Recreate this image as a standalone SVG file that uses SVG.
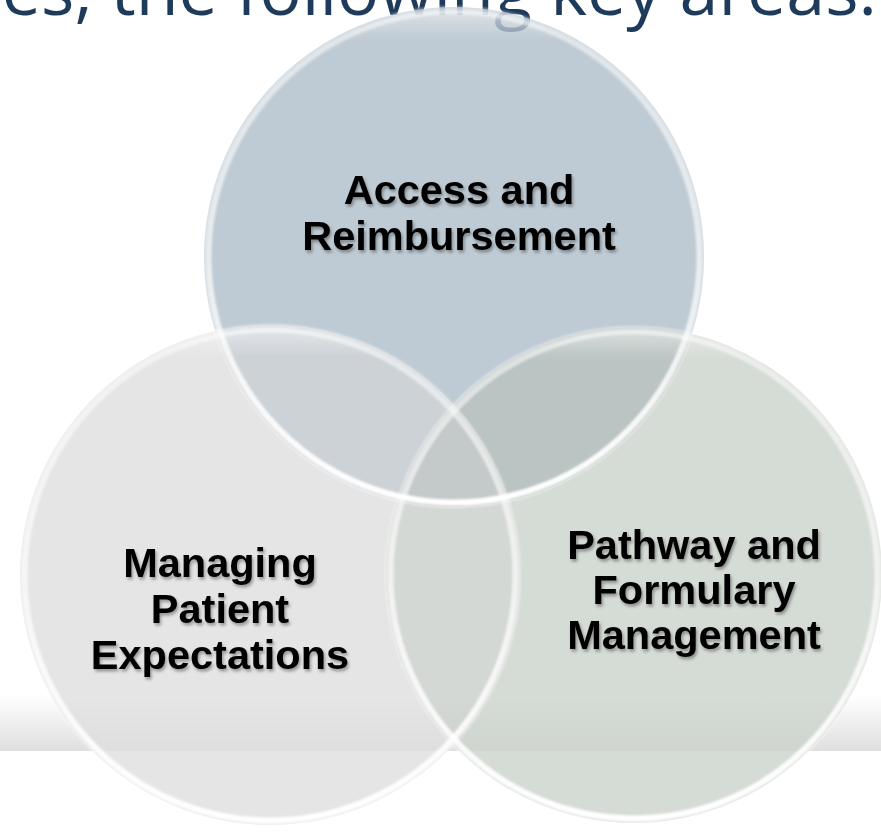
<svg xmlns="http://www.w3.org/2000/svg" width="881" height="833" viewBox="0 0 881 833">
  <defs>
    <style>
      .title { font-family: "Open Sans", "Liberation Sans", sans-serif; font-size: 70px; fill: #1F3B5C; }
      .label { font-family: "Liberation Sans", Arial, sans-serif; font-size: 41.5px; font-weight: bold; fill: #000; text-anchor: middle; }
      .rim { fill: none; stroke: url(#rimGrad); stroke-width: 6; }
      .edge { fill: none; stroke: #FFFFFF; stroke-opacity: 0.6; stroke-width: 1.5; }
      .gloss { fill: url(#glossGrad); }
    </style>
    <linearGradient id="bandGrad" x1="0" y1="0" x2="0" y2="1">
      <stop offset="0" stop-color="#FFFFFF"/>
      <stop offset="1" stop-color="#E6E6E6"/>
    </linearGradient>
    <linearGradient id="bandOver" x1="0" y1="0" x2="0" y2="1">
      <stop offset="0" stop-color="#000" stop-opacity="0"/>
      <stop offset="1" stop-color="#000" stop-opacity="0.03"/>
    </linearGradient>
    <linearGradient id="rimGrad" x1="0" y1="0" x2="0" y2="1">
      <stop offset="0" stop-color="#FFFFFF" stop-opacity="0.5"/>
      <stop offset="0.5" stop-color="#FFFFFF" stop-opacity="0.65"/>
      <stop offset="1" stop-color="#FFFFFF" stop-opacity="1"/>
    </linearGradient>
    <linearGradient id="glossGrad" x1="0" y1="0" x2="0" y2="1">
      <stop offset="0" stop-color="#FFFFFF" stop-opacity="0.45"/>
      <stop offset="0.06" stop-color="#FFFFFF" stop-opacity="0"/>
    </linearGradient>
    <filter id="shadow" x="-10%" y="-20%" width="120%" height="150%">
      <feDropShadow dx="1.5" dy="2.5" stdDeviation="1.8" flood-color="#000" flood-opacity="0.35"/>
    </filter>
    <filter id="soft" x="-5%" y="-5%" width="110%" height="110%">
      <feGaussianBlur stdDeviation="0.9"/>
    </filter>
    <clipPath id="clipTop"><circle cx="454" cy="257" r="250"/></clipPath>
    <clipPath id="clipLeft"><circle cx="270" cy="575" r="250"/></clipPath>
    <clipPath id="clipRight"><circle cx="634" cy="575" r="248"/></clipPath>
  </defs>

  <rect x="0" y="0" width="881" height="833" fill="#FFFFFF"/>
  <rect x="0" y="695" width="881" height="56" fill="url(#bandGrad)"/>

  <text class="title" x="877" y="15" text-anchor="end">es, the following key areas:</text>

  <g id="node-access">
    <circle cx="454" cy="257" r="250" fill="#AAB9C6" fill-opacity="0.75"/>
  </g>
  <g id="node-patient">
    <circle cx="270" cy="575" r="250" fill="#E5E5E5"/>
  </g>
  <g id="node-pathway">
    <circle cx="634" cy="575" r="248" fill="#D5DBD5"/>
  </g>

  <g id="overlaps">
    <circle cx="270" cy="575" r="250" fill="#CDD2D7" clip-path="url(#clipTop)"/>
    <circle cx="634" cy="575" r="248" fill="#BAC4C2" clip-path="url(#clipTop)"/>
    <circle cx="634" cy="575" r="248" fill="#D4D8D4" clip-path="url(#clipLeft)"/>
    <g clip-path="url(#clipTop)">
      <circle cx="634" cy="575" r="248" fill="#C4CAC9" clip-path="url(#clipLeft)"/>
    </g>
  </g>

  <rect x="0" y="695" width="881" height="56" fill="url(#bandOver)"/>

  <g id="rims" filter="url(#soft)">
    <circle class="gloss" cx="454" cy="257" r="247"/>
    <circle class="gloss" cx="270" cy="575" r="247"/>
    <circle class="gloss" cx="634" cy="575" r="245"/>
    <circle class="rim" cx="454" cy="257" r="245.5"/>
    <circle class="rim" cx="270" cy="575" r="245.5"/>
    <circle class="rim" cx="634" cy="575" r="243.5"/>
    <circle class="edge" cx="454" cy="257" r="250"/>
    <circle class="edge" cx="270" cy="575" r="250"/>
    <circle class="edge" cx="634" cy="575" r="248"/>
  </g>

  <g id="labels" filter="url(#shadow)">
    <text class="label" x="459" y="204">Access and</text>
    <text class="label" x="459" y="250">Reimbursement</text>
    <text class="label" x="220" y="577">Managing</text>
    <text class="label" x="220" y="623">Patient</text>
    <text class="label" x="220" y="669">Expectations</text>
    <text class="label" x="694" y="559">Pathway and</text>
    <text class="label" x="694" y="604">Formulary</text>
    <text class="label" x="694" y="649">Management</text>
  </g>
</svg>
